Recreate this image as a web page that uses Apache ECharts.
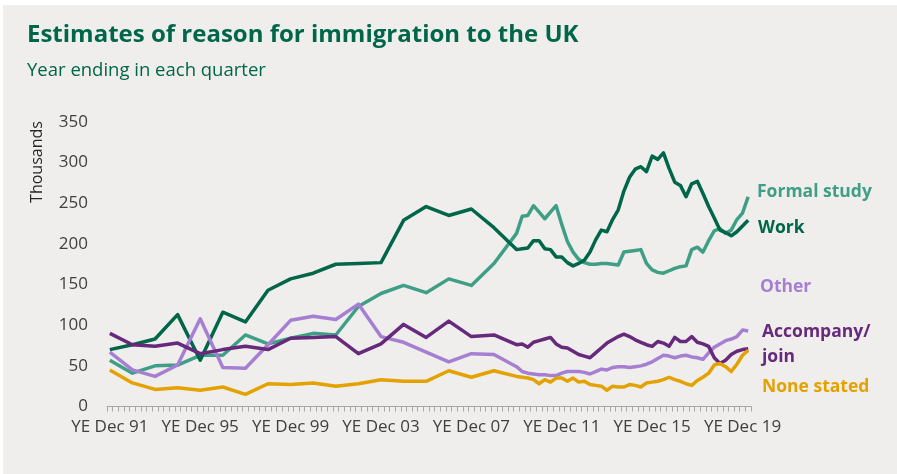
<!DOCTYPE html>
<html>
<head>
<meta charset="utf-8">
<script src="https://cdn.jsdelivr.net/npm/echarts@6/dist/echarts.min.js"></script>
<style>
  html, body { margin: 0; padding: 0; background: #ffffff; }
  #chart { position: absolute; left: 0; top: 0; width: 897px; height: 474px; }
</style>
</head>
<body>
<div id="chart"></div>
<script>
// Annual estimates, year ending December 1991 to 2009 (thousands)
const annualYears = [1991, 1992, 1993, 1994, 1995, 1996, 1997, 1998, 1999, 2000,
                     2001, 2002, 2003, 2004, 2005, 2006, 2007, 2008, 2009];
const workAnnual     = [70, 76, 83, 113, 57, 116, 104, 143, 157, 164, 175, 176, 177, 229, 246, 235, 243, 220, 193];
const studyAnnual    = [57, 41, 50, 51, 63, 63, 88, 77, 84, 90, 88, 123, 139, 149, 140, 157, 149, 176, 213];
const otherAnnual    = [67, 45, 37, 51, 108, 48, 47, 76, 106, 111, 107, 126, 86, 79, 67, 55, 65, 64, 49];
const accompAnnual   = [90, 76, 74, 78, 65, 70, 74, 70, 84, 85, 86, 65, 77, 101, 85, 105, 86, 88, 76];
const noneAnnual     = [45, 29, 21, 23, 20, 24, 15, 28, 27, 29, 25, 28, 33, 31, 31, 44, 36, 44, 37];

// Rolling quarterly estimates, year ending March 2010 to March 2020 (thousands)
const workQuarterly   = [194, 195, 204, 204, 194, 193, 184, 184, 177, 173, 176, 180, 190, 205, 217, 215,
                         230, 242, 265, 282, 292, 295, 289, 308, 304, 312, 293, 276, 272, 258, 274, 277,
                         262, 246, 232, 217, 214, 210, 215, 222, 229];
const studyQuarterly  = [234, 235, 247, 239, 231, 239, 247, 224, 203, 190, 181, 177, 175, 175, 176, 176,
                         175, 174, 190, 191, 192, 193, 176, 168, 165, 164, 167, 170, 172, 173, 193, 196,
                         190, 204, 216, 219, 213, 217, 230, 238, 258];
const otherQuarterly  = [43, 41, 40, 39, 39, 38, 38, 41, 43, 43, 43, 42, 40, 43, 46, 45,
                         48, 49, 49, 48, 49, 50, 52, 55, 59, 63, 62, 60, 62, 63, 61, 60,
                         58, 66, 73, 77, 81, 83, 86, 94, 93];
const accompQuarterly = [77, 73, 79, 81, 83, 85, 77, 73, 72, 68, 64, 62, 60, 66, 72, 78,
                         82, 86, 89, 86, 82, 79, 76, 74, 80, 78, 74, 85, 80, 80, 86, 79,
                         77, 74, 60, 53, 57, 64, 68, 70, 71];
const noneQuarterly   = [36, 35, 33, 28, 33, 30, 35, 35, 31, 35, 30, 31, 27, 26, 25, 20,
                         25, 24, 24, 27, 26, 24, 29, 30, 31, 33, 36, 33, 31, 28, 26, 32,
                         36, 41, 51, 53, 49, 43, 52, 63, 69];

// Axis labels and series names
const seriesNames = ['Formal study', 'Work', 'Other', 'Accompany/\njoin', 'None stated'];
const seriesColors = ['#3f9f86', '#00664a', '#a67fd2', '#66297c', '#e3a200'];
const yTicks = [0, 50, 100, 150, 200, 250, 300, 350];

// Quarterly category axis: YE Dec 91 ... YE Mar 20
const months = ['Mar', 'Jun', 'Sep', 'Dec'];
const categories = ['YE Dec 91'];
for (let y = 1992; y <= 2020; y++) {
  for (const m of months) {
    if (y === 2020 && m !== 'Mar') break;
    categories.push('YE ' + m + ' ' + String(y).slice(2));
  }
}
const firstQuarterlyIndex = categories.indexOf('YE Mar 10');

function buildSeriesData(annual, quarterly) {
  const data = categories.map(() => null);
  annual.forEach((v, i) => { data[(annualYears[i] - 1991) * 4] = v; });
  quarterly.forEach((v, i) => { data[firstQuarterlyIndex + i] = v; });
  return data;
}

const seriesData = [
  buildSeriesData(studyAnnual, studyQuarterly),
  buildSeriesData(workAnnual, workQuarterly),
  buildSeriesData(otherAnnual, otherQuarterly),
  buildSeriesData(accompAnnual, accompQuarterly),
  buildSeriesData(noneAnnual, noneQuarterly)
];

const chart = echarts.init(document.getElementById('chart'), null, { renderer: 'canvas' });

const labelFont = '"Open Sans", "Noto Sans", sans-serif';

// Right-hand series labels
const legendLabels = [
  { text: 'Formal study', y: 192, color: seriesColors[0], x: 757 },
  { text: 'Work', y: 228, color: seriesColors[1], x: 758 },
  { text: 'Other', y: 287, color: seriesColors[2], x: 760 },
  { text: 'Accompany/', y: 332, color: seriesColors[3], x: 762 },
  { text: 'join', y: 357, color: seriesColors[3], x: 762 },
  { text: 'None stated', y: 387, color: seriesColors[4], x: 762 }
];

chart.setOption({
  backgroundColor: '#ffffff',
  animation: false,
  graphic: [
    { type: 'rect', z: -10, silent: true,
      shape: { x: 3, y: 5, width: 894, height: 469 },
      style: { fill: '#efeeec' } },
    { type: 'text', x: 27, y: 35,
      style: { text: 'Estimates of reason for immigration to the UK', fill: '#00664a',
               font: 'bold 24px ' + labelFont, textVerticalAlign: 'middle' } },
    { type: 'text', x: 27, y: 71,
      style: { text: 'Year ending in each quarter', fill: '#00664a',
               font: '18.5px ' + labelFont, textVerticalAlign: 'middle' } },
    { type: 'text', x: 37, y: 162, rotation: Math.PI / 2,
      style: { text: 'Thousands', fill: '#262626', font: '16px ' + labelFont,
               textAlign: 'center', textVerticalAlign: 'middle' } }
  ].concat(legendLabels.map(l => ({
    type: 'text', x: l.x, y: l.y,
    style: { text: l.text, fill: l.color, font: 'bold 17.5px ' + labelFont, textVerticalAlign: 'middle' }
  }))),
  grid: { left: 107, right: 146, top: 122, bottom: 67.5, containLabel: false },
  xAxis: {
    type: 'category',
    data: categories,
    boundaryGap: true,
    axisLine: { show: true, lineStyle: { color: '#a6a6a6', width: 1 } },
    axisTick: { show: true, interval: 0, length: 5, lineStyle: { color: '#a6a6a6' } },
    axisLabel: { interval: 15, color: '#404040', fontSize: 17, fontFamily: labelFont, margin: 12 },
    splitLine: { show: false }
  },
  yAxis: {
    type: 'value',
    min: yTicks[0],
    max: yTicks[yTicks.length - 1],
    interval: yTicks[1] - yTicks[0],
    axisLine: { show: false },
    axisTick: { show: false },
    splitLine: { show: false },
    axisLabel: { color: '#404040', fontSize: 17, fontFamily: labelFont, margin: 19 }
  },
  series: seriesNames.map((name, i) => ({
    name: name,
    type: 'line',
    data: seriesData[i],
    connectNulls: true,
    showSymbol: false,
    symbol: 'none',
    lineStyle: { color: seriesColors[i], width: 3.5, join: 'round' },
    itemStyle: { color: seriesColors[i] },
    z: 2 + i
  }))
});
</script>
</body>
</html>
